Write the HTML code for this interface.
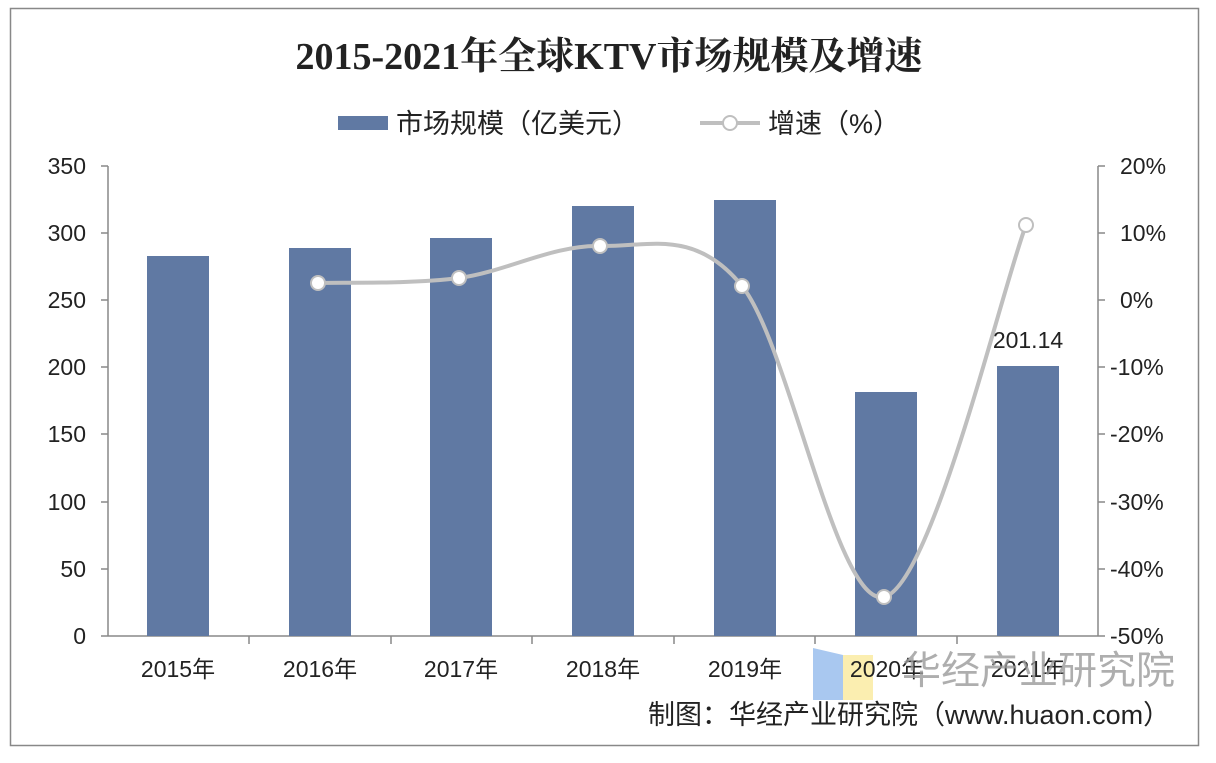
<!DOCTYPE html>
<html><head><meta charset="utf-8"><style>
body{margin:0;background:#fff;width:1216px;height:758px;overflow:hidden}
text{font-family:"Liberation Sans","Noto Sans CJK SC",sans-serif;fill:#222}
</style></head><body>
<svg width="1216" height="758" xmlns="http://www.w3.org/2000/svg">
<rect x="0" y="0" width="1216" height="758" fill="#fff"/>
<rect x="10.5" y="8.5" width="1188" height="737" fill="#fff" stroke="#888" stroke-width="1.5"/>
<text x="609" y="69" text-anchor="middle" font-size="38" font-weight="bold" style="font-family:'Liberation Serif','Noto Serif CJK SC',serif">2015-2021年全球KTV市场规模及增速</text>
<rect x="338" y="116" width="50" height="14" fill="#6079a3"/>
<text x="396" y="133" font-size="27">市场规模（亿美元）</text>
<line x1="700" y1="123" x2="760" y2="123" stroke="#bfbfbf" stroke-width="4"/>
<circle cx="730" cy="123" r="7" fill="#fff" stroke="#bfbfbf" stroke-width="2"/>
<text x="768" y="133" font-size="27">增速（%）</text>
<g stroke="#888" stroke-width="1.5">
<line x1="108" y1="166" x2="108" y2="636"/>
<line x1="1098" y1="166" x2="1098" y2="636"/>
<line x1="108" y1="636" x2="1098" y2="636"/>
</g>
<g stroke="#888" stroke-width="1.5">
<line x1="101" y1="166" x2="108" y2="166"/><line x1="101" y1="233" x2="108" y2="233"/><line x1="101" y1="300" x2="108" y2="300"/><line x1="101" y1="367" x2="108" y2="367"/><line x1="101" y1="434" x2="108" y2="434"/><line x1="101" y1="502" x2="108" y2="502"/><line x1="101" y1="569" x2="108" y2="569"/><line x1="101" y1="636" x2="108" y2="636"/>
<line x1="1098" y1="166" x2="1105" y2="166"/><line x1="1098" y1="233" x2="1105" y2="233"/><line x1="1098" y1="300" x2="1105" y2="300"/><line x1="1098" y1="367" x2="1105" y2="367"/><line x1="1098" y1="434" x2="1105" y2="434"/><line x1="1098" y1="502" x2="1105" y2="502"/><line x1="1098" y1="569" x2="1105" y2="569"/><line x1="1098" y1="636" x2="1105" y2="636"/>
<line x1="249" y1="636" x2="249" y2="644"/><line x1="391" y1="636" x2="391" y2="644"/><line x1="532" y1="636" x2="532" y2="644"/><line x1="674" y1="636" x2="674" y2="644"/><line x1="815" y1="636" x2="815" y2="644"/><line x1="957" y1="636" x2="957" y2="644"/>
</g>
<g font-size="23" text-anchor="end">
<text x="86" y="174">350</text><text x="86" y="241">300</text><text x="86" y="308">250</text><text x="86" y="375">200</text><text x="86" y="442">150</text><text x="86" y="510">100</text><text x="86" y="577">50</text><text x="86" y="644">0</text>
</g>
<g font-size="23" text-anchor="start">
<text x="1120" y="174">20%</text><text x="1120" y="241">10%</text><text x="1120" y="308">0%</text><text x="1110" y="375">-10%</text><text x="1110" y="442">-20%</text><text x="1110" y="510">-30%</text><text x="1110" y="577">-40%</text><text x="1110" y="644">-50%</text>
</g>
<g fill="#6079a3">
<rect x="147" y="256" width="62" height="380"/>
<rect x="289" y="248" width="62" height="388"/>
<rect x="430" y="238" width="62" height="398"/>
<rect x="572" y="206" width="62" height="430"/>
<rect x="714" y="200" width="62" height="436"/>
<rect x="855" y="392" width="62" height="244"/>
<rect x="997" y="366" width="62" height="270"/>
</g>
<text x="1028" y="348" font-size="23" text-anchor="middle">201.14</text>
<path d="M318,283 C341.5,282.2 412,284.2 459,278 C506,271.8 552.8,244.7 600,246 C647.2,247.3 694.7,227.5 742,286 C789.3,344.5 836.7,607.3 884,597 C931.3,586.7 1002.3,287 1026,225" fill="none" stroke="#bfbfbf" stroke-width="4"/>
<g fill="#fff" stroke="#bfbfbf" stroke-width="2">
<circle cx="318" cy="283" r="7"/><circle cx="459" cy="278" r="7"/><circle cx="600" cy="246" r="7"/><circle cx="742" cy="286" r="7"/><circle cx="884" cy="597" r="7"/><circle cx="1026" cy="225" r="7"/>
</g>
<polygon points="813,648 843,655 843,700 813,700" fill="#a9c8f0"/>
<rect x="843" y="655" width="30" height="45" fill="#fbeeb0"/>
<g font-size="23" text-anchor="middle">
<text x="178" y="677">2015年</text><text x="320" y="677">2016年</text><text x="461" y="677">2017年</text><text x="603" y="677">2018年</text><text x="745" y="677">2019年</text><text x="887" y="677">2020年</text><text x="1028" y="677">2021年</text>
</g>
<text x="902" y="684" font-size="39" style="fill:#9a9a9a;opacity:0.8">华经产业研究院</text>
<text x="648" y="724" font-size="27">制图：华经产业研究院（www.huaon.com）</text>
</svg>
</body></html>
